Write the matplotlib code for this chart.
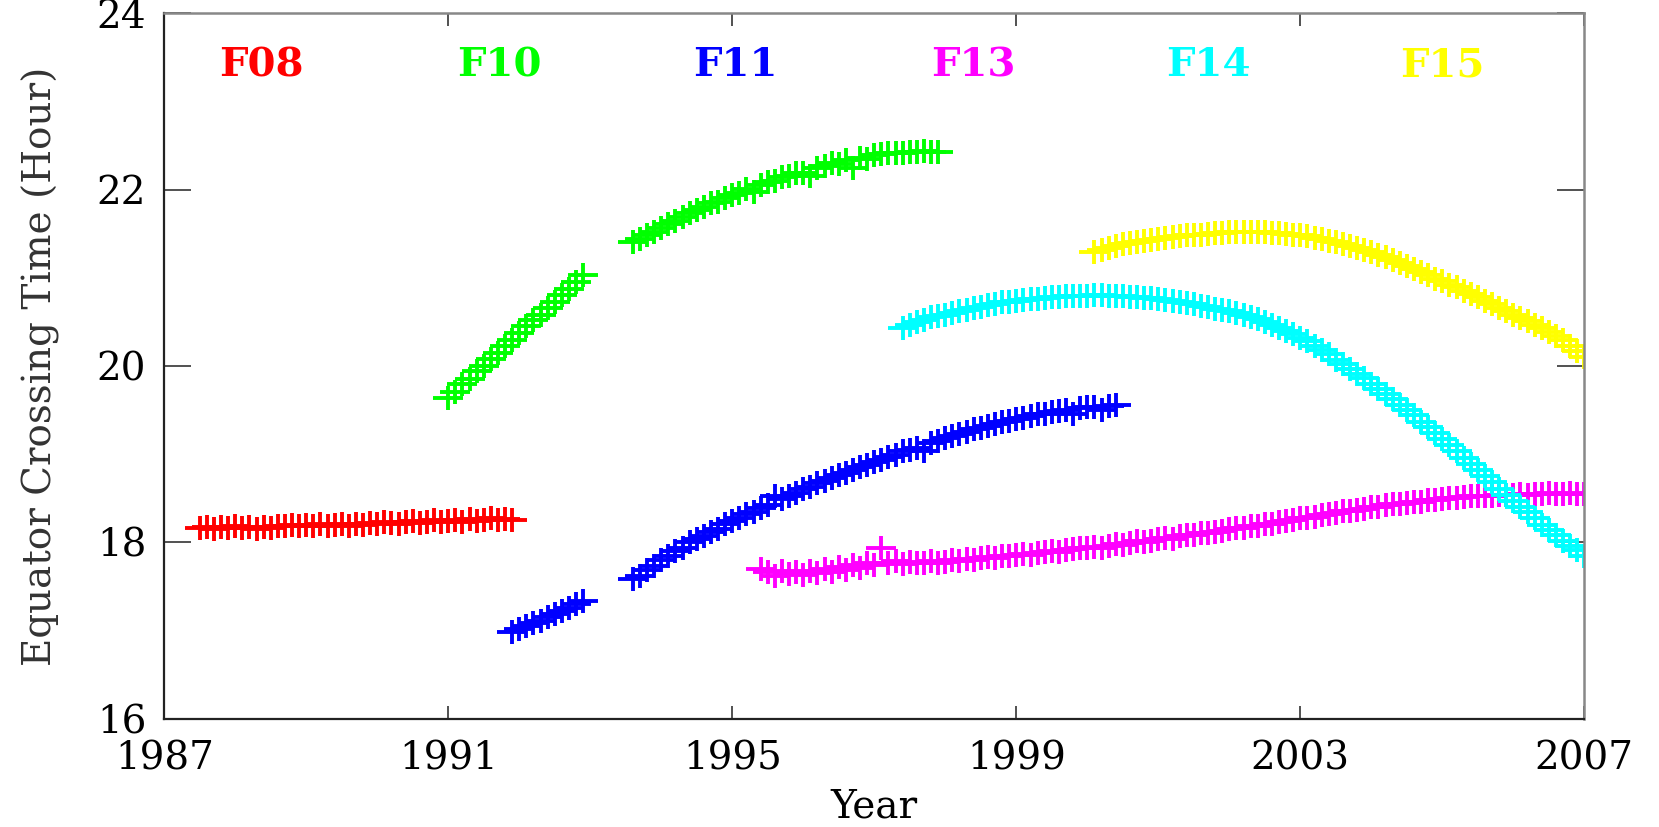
import numpy as np
from matplotlib import pyplot as plt
from matplotlib.path import Path

# equator crossing time (hour) per satellite, sampled every 0.1 year
step = 0.1

f08_start = 1987.5
f08 = [18.16, 18.17, 18.15, 18.17, 18.16, 18.18, 18.16, 18.17, 18.15, 18.17, 18.16, 18.18,
       18.19, 18.20, 18.18, 18.20, 18.19, 18.21, 18.19, 18.20, 18.21, 18.19, 18.21, 18.20, 18.22,
       18.21, 18.23, 18.22, 18.21, 18.23, 18.24, 18.22, 18.23, 18.25, 18.23,
       18.24, 18.25, 18.23, 18.26, 18.24, 18.25, 18.27, 18.25, 18.26, 18.25]

f10a_start = 1991.0
f10a = [19.64, 19.71, 19.79, 19.85, 19.94, 20.00, 20.08, 20.15, 20.23, 20.29,
        20.37, 20.45, 20.52, 20.58, 20.66, 20.73, 20.81, 20.87, 20.95, 21.03]

f10b_start = 1993.6
f10b = [21.40, 21.44, 21.49, 21.52,
        21.57, 21.61, 21.64, 21.69, 21.73, 21.77, 21.80, 21.85, 21.86, 21.91,
        21.94, 21.96, 22.01, 21.97, 22.05, 22.09, 22.10, 22.14, 22.15, 22.19,
        22.19, 22.15, 22.25, 22.27, 22.30, 22.29, 22.33, 22.24, 22.36, 22.35,
        22.39, 22.40, 22.41, 22.42, 22.42, 22.43, 22.43, 22.44, 22.43, 22.43]

f11a_start = 1991.9
f11a = [16.98, 17.02, 17.05, 17.09, 17.11, 17.15, 17.19, 17.22, 17.25, 17.30, 17.33]

f11b_start = 1993.6
f11b = [17.58, 17.62, 17.69, 17.73,
        17.80, 17.84, 17.90, 17.93, 18.00, 18.04, 18.07, 18.12, 18.15, 18.21,
        18.24, 18.27, 18.32, 18.34, 18.39, 18.42, 18.52, 18.49, 18.53, 18.56,
        18.60, 18.63, 18.67, 18.69, 18.73, 18.76, 18.79, 18.82, 18.85, 18.88,
        18.91, 18.93, 18.97, 18.99, 19.03, 19.05, 19.07, 19.03, 19.13, 19.15,
        19.18, 19.20, 19.23, 19.25, 19.28, 19.30, 19.32, 19.34, 19.36, 19.38,
        19.40, 19.41, 19.43, 19.45, 19.46, 19.48, 19.49, 19.50, 19.45, 19.52,
        19.53, 19.54, 19.50, 19.55, 19.56]

f13_start = 1995.4
f13 = [17.70, 17.66, 17.62, 17.68, 17.64, 17.66,
       17.63, 17.68, 17.65, 17.70, 17.66, 17.72, 17.69, 17.74, 17.71, 17.76,
       17.74, 17.93, 17.76, 17.79, 17.75, 17.78, 17.76, 17.77, 17.79, 17.77,
       17.78, 17.80, 17.79, 17.81, 17.80, 17.82, 17.83, 17.82, 17.84, 17.85,
       17.86, 17.87, 17.86, 17.88, 17.89, 17.90, 17.89, 17.91, 17.92, 17.93,
       17.93, 17.95, 17.94, 17.96, 17.98, 17.97, 17.99, 18.01, 18.00, 18.02,
       18.04, 18.05, 18.04, 18.07, 18.08, 18.08, 18.10, 18.11, 18.12, 18.13,
       18.15, 18.16, 18.16, 18.18, 18.19, 18.21, 18.21, 18.23, 18.24, 18.25,
       18.27, 18.28, 18.29, 18.31, 18.32, 18.33, 18.35, 18.36, 18.37, 18.38,
       18.40, 18.40, 18.42, 18.43, 18.44, 18.45, 18.46, 18.46, 18.48, 18.48,
       18.49, 18.50, 18.50, 18.51, 18.52, 18.52, 18.53, 18.53, 18.54, 18.54,
       18.54, 18.55, 18.54, 18.55, 18.55, 18.56, 18.55, 18.55, 18.56, 18.55,
       18.55]

f14_start = 1997.4
f14 = [20.43, 20.47, 20.50, 20.52, 20.55, 20.57,
       20.58, 20.60, 20.62, 20.64, 20.66, 20.67, 20.69, 20.70, 20.72, 20.73,
       20.74, 20.75, 20.76, 20.76, 20.77, 20.78, 20.78, 20.79, 20.79, 20.79,
       20.79, 20.80, 20.80, 20.79, 20.79, 20.79, 20.78, 20.78, 20.77, 20.77,
       20.76, 20.75, 20.74, 20.73, 20.71, 20.70, 20.68, 20.67, 20.65, 20.64,
       20.62, 20.60, 20.58, 20.55, 20.53, 20.50, 20.47, 20.43, 20.40, 20.36,
       20.32, 20.28, 20.23, 20.18, 20.13, 20.07, 20.02, 19.97, 19.91, 19.86,
       19.80, 19.74, 19.68, 19.62, 19.56, 19.50, 19.44, 19.37, 19.31, 19.24,
       19.17, 19.10, 19.03, 18.96, 18.89, 18.82, 18.75, 18.68, 18.61, 18.54,
       18.47, 18.40, 18.34, 18.27, 18.20, 18.14, 18.08, 18.02, 17.96, 17.91,
       17.85]

f15_start = 2000.1
f15 = [21.29, 21.32, 21.34, 21.36, 21.38, 21.39, 21.41, 21.42, 21.43,
       21.44, 21.45, 21.46, 21.47, 21.48, 21.49, 21.49, 21.50, 21.51, 21.51,
       21.52, 21.52, 21.52, 21.52, 21.52, 21.52, 21.51, 21.51, 21.50, 21.49,
       21.48, 21.47, 21.45, 21.44, 21.42, 21.40, 21.38, 21.36, 21.34, 21.31,
       21.29, 21.26, 21.23, 21.20, 21.17, 21.13, 21.10, 21.07, 21.03, 20.99,
       20.96, 20.92, 20.89, 20.85, 20.82, 20.78, 20.74, 20.70, 20.66, 20.62,
       20.58, 20.54, 20.51, 20.47, 20.43, 20.39, 20.34, 20.29, 20.23, 20.17,
       20.10]

names = ["F08", "F10", "F11", "F13", "F14", "F15"]
colors = ["#ff0000", "#00ff00", "#0000ff", "#ff00ff", "#00ffff", "#ffff00"]
segments = {
    "F08": [(f08_start, f08)],
    "F10": [(f10a_start, f10a), (f10b_start, f10b)],
    "F11": [(f11a_start, f11a), (f11b_start, f11b)],
    "F13": [(f13_start, f13)],
    "F14": [(f14_start, f14)],
    "F15": [(f15_start, f15)],
}

plt.rcParams["font.family"] = ["DejaVu Serif"]

fig = plt.figure(figsize=(16.59, 8.27), dpi=100)
ax = fig.add_axes([0.099, 0.131, 0.856, 0.853])

# wide plus marker (the original image is a bit stretched horizontally)
cross = Path([(-1, 0), (1, 0), (0, -0.8), (0, 0.8)],
             [Path.MOVETO, Path.LINETO, Path.MOVETO, Path.LINETO])

for name, c in zip(names, colors):
    for start, hours in segments[name]:
        years = start + step * np.arange(len(hours))
        ax.plot(years, hours, linestyle="none", marker=cross, ms=22,
                mew=2.8, mec=c, mfc="none")

# satellite labels across the top
label_x = [1988.37, 1991.72, 1995.04, 1998.4, 2001.7, 2005.0]
for name, c, lx in zip(names, colors, label_x):
    ax.text(lx, 23.41, name, color=c, fontsize=29, fontweight="bold",
            ha="center", va="center")

ax.set_xlim(1987, 2007)
ax.set_ylim(16, 24)
ax.set_xticks([1987, 1991, 1995, 1999, 2003, 2007])
ax.set_yticks([16, 18, 20, 22, 24])

ax.tick_params(axis="both", direction="in", top=True, right=True,
               labelsize=28, width=1.2, color="#333333")
ax.tick_params(axis="x", length=9.5, pad=16)
ax.tick_params(axis="y", length=19.5, pad=13)

for side in ["left", "bottom"]:
    ax.spines[side].set_color("#222222")
    ax.spines[side].set_linewidth(1.6)
for side in ["top", "right"]:
    ax.spines[side].set_color("#888888")
    ax.spines[side].set_linewidth(1.8)

ax.set_xlabel("Year", fontsize=28, labelpad=8)
ax.set_ylabel("Equator Crossing Time (Hour)", fontsize=28, labelpad=26,
              color="#333333")

fig.savefig("out.png", dpi=100)
